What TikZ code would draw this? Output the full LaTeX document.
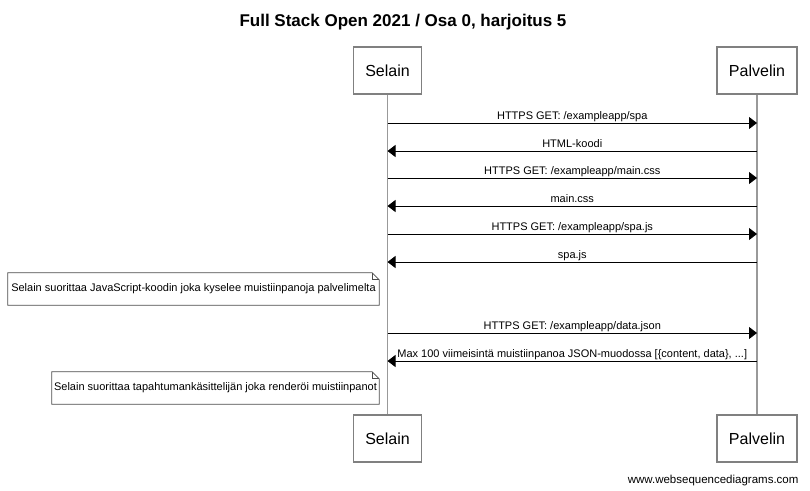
\documentclass[tikz,border=0pt]{standalone}
\usepackage{fontspec}
\setmainfont{Liberation Sans}
\usetikzlibrary{positioning, arrows.meta, calc}

\begin{document}
\begin{tikzpicture}[
    x=1pt, y=-1pt,
    actor/.style={rectangle, draw=black!50, line width=1.2pt, fill=white, font=\fontsize{16}{19}\selectfont, inner xsep=12pt, minimum height=47pt},
    lifeline/.style={draw=black!40, line width=1.5pt},
    msg/.style={-{Triangle[length=8pt, width=12pt]}, line width=0.9pt},
    msglabel/.style={anchor=base, yshift=4pt, font=\fontsize{11}{13}\selectfont, inner sep=0pt},
    note/.style={minimum height=32pt, inner sep=0pt, font=\fontsize{11}{13}\selectfont},
    noteline/.style={draw=black!70, line width=0.8pt}
]
    \useasboundingbox (0,0) rectangle (810,490);

    % Title
    \node[font=\fontsize{17}{20}\selectfont\bfseries, anchor=base] (title) at (403,26) {Full Stack Open 2021 / Osa 0, harjoitus 5};

    % Actors - top and bottom
    \node[actor] (selainTop) at (387.5,70.5) {Selain};
    \node[actor] (palvelinTop) at (757,70.5) {Palvelin};
    \node[actor] (selainBot) at (387.5,438.5) {Selain};
    \node[actor] (palvelinBot) at (757,438.5) {Palvelin};

    % Lifelines
    \draw[lifeline] (selainTop) -- (selainBot);
    \draw[lifeline] (palvelinTop) -- (palvelinBot);

    % Message points on the lifelines
    \foreach \i/\yy in {1/123, 2/151, 3/178, 4/206, 5/234, 6/262, 7/333, 8/361} {
        \coordinate (s\i) at (387.5,\yy);
        \coordinate (p\i) at (757,\yy);
    }

    % Messages
    \draw[msg] (s1) -- node[msglabel] {HTTPS GET: /exampleapp/spa} (p1);
    \draw[msg] (p2) -- node[msglabel] {HTML-koodi} (s2);
    \draw[msg] (s3) -- node[msglabel] {HTTPS GET: /exampleapp/main.css} (p3);
    \draw[msg] (p4) -- node[msglabel] {main.css} (s4);
    \draw[msg] (s5) -- node[msglabel] {HTTPS GET: /exampleapp/spa.js} (p5);
    \draw[msg] (p6) -- node[msglabel] {spa.js} (s6);
    \draw[msg] (s7) -- node[msglabel] {HTTPS GET: /exampleapp/data.json} (p7);
    \draw[msg] (p8) -- node[msglabel] {Max 100 viimeisintä muistiinpanoa JSON-muodossa [\{content, data\}, ...]} (s8);

    % Notes
    \node[note, minimum width=371pt] (note1) at (193.5,289) {Selain suorittaa JavaScript-koodin joka kyselee muistiinpanoja palvelimelta};
    \node[note, minimum width=327pt] (note2) at (215.5,388) {Selain suorittaa tapahtumankäsittelijän joka renderöi muistiinpanot};
    \foreach \n in {note1, note2} {
        \draw[noteline] (\n.south west) -- (\n.north west) -- ([xshift=-7pt]\n.north east) -- ([yshift=-7pt]\n.north east) -- (\n.south east) -- cycle;
        \draw[noteline] ([xshift=-7pt]\n.north east) |- ([yshift=-7pt]\n.north east);
    }

    % Footer
    \node[anchor=base east, font=\fontsize{11.5}{13}\selectfont] (footer) at (802,483) {www.websequencediagrams.com};
\end{tikzpicture}
\end{document}
